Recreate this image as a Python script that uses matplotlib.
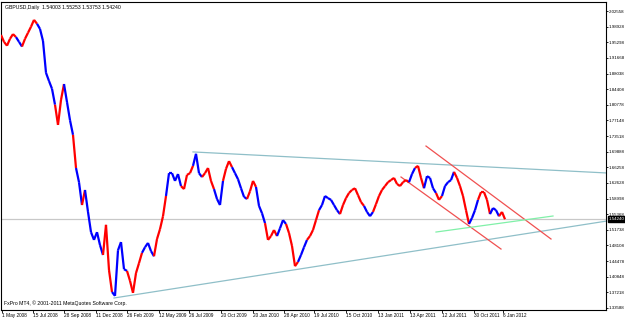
import matplotlib
matplotlib.use("Agg")
import matplotlib.pyplot as plt
from matplotlib.collections import LineCollection
import numpy as np

# ---------------- data ----------------
bar_step = 3  # bars between samples
closes = [
    1.970, 1.954, 1.945, 1.961, 1.972, 1.965, 1.954, 1.943, 1.961, 1.975,
    1.989, 2.005, 1.996, 1.984, 1.956, 1.882, 1.863, 1.845, 1.808, 1.761,
    1.819, 1.856, 1.814, 1.772, 1.738, 1.661, 1.628, 1.575, 1.610, 1.559,
    1.512, 1.494, 1.512, 1.482, 1.459, 1.529, 1.424, 1.373, 1.364, 1.470,
    1.489, 1.426, 1.422, 1.399, 1.371, 1.417, 1.440, 1.464, 1.477, 1.487,
    1.468, 1.456, 1.496, 1.519, 1.549, 1.596, 1.649, 1.649, 1.631, 1.647,
    1.619, 1.612, 1.645, 1.649, 1.666, 1.694, 1.649, 1.640, 1.649, 1.661,
    1.631, 1.612, 1.589, 1.575, 1.631, 1.659, 1.677, 1.663, 1.649, 1.635,
    1.614, 1.594, 1.589, 1.607, 1.631, 1.617, 1.573, 1.556, 1.533, 1.494,
    1.503, 1.517, 1.503, 1.521, 1.540, 1.531, 1.510, 1.480, 1.433, 1.443,
    1.459, 1.477, 1.494, 1.503, 1.517, 1.540, 1.563, 1.575, 1.596, 1.591,
    1.587, 1.575, 1.563, 1.554, 1.575, 1.591, 1.603, 1.610, 1.614, 1.598,
    1.582, 1.573, 1.559, 1.549, 1.559, 1.577, 1.596, 1.610, 1.619, 1.628,
    1.633, 1.638, 1.624, 1.619, 1.628, 1.633, 1.628, 1.647, 1.661, 1.666,
    1.638, 1.614, 1.642, 1.638, 1.614, 1.603, 1.587, 1.596, 1.619, 1.628,
    1.633, 1.652, 1.638, 1.619, 1.596, 1.563, 1.531, 1.545, 1.563, 1.587,
    1.605, 1.605, 1.587, 1.554, 1.568, 1.563, 1.549, 1.559, 1.542,
]
# trend state runs: (state, number of samples); r = up-colour, b = down-colour
trend_runs = [("r", 6), ("b", 2), ("r", 5), ("b", 6), ("r", 3), ("b", 3), ("r", 1), ("b", 2),
              ("r", 1), ("b", 6), ("r", 3), ("b", 5), ("r", 5), ("b", 4), ("r", 4), ("b", 5),
              ("r", 4), ("b", 3), ("r", 4), ("b", 3), ("r", 3), ("b", 5), ("r", 3), ("b", 3),
              ("r", 4), ("b", 3), ("r", 4), ("b", 3), ("r", 4), ("b", 7), ("r", 8), ("b", 3),
              ("r", 12), ("b", 2), ("r", 3), ("b", 4), ("r", 2), ("b", 4), ("r", 5), ("b", 3),
              ("r", 4), ("b", 3), ("r", 2)]

ticks_bar = [1, 32, 63, 95, 126, 158, 188, 220, 252, 283, 313, 345, 377, 409, 441, 473, 502]
tick_labels = ["1 May 2008", "15 Jul 2008", "28 Sep 2008", "11 Dec 2008", "26 Feb 2009",
               "12 May 2009", "26 Jul 2009", "20 Oct 2009", "20 Jan 2010", "28 Apr 2010",
               "19 Jul 2010", "15 Oct 2010", "13 Jan 2011", "13 Apr 2011", "12 Jul 2011",
               "30 Oct 2011", "6 Jan 2012"]
price_levels = [2.02558, 1.98928, 1.95298, 1.91668, 1.88038, 1.84408, 1.80778, 1.77148,
                1.73518, 1.69888, 1.66258, 1.62628, 1.58998, 1.55368, 1.51738, 1.48108,
                1.44478, 1.40848, 1.37218, 1.33588]
current_price = 1.54240
title_text = "GBPUSD,Daily  1.54003 1.55253 1.53753 1.54240"
footer_text = "FxPro MT4, \u00a9 2001-2011 MetaQuotes Software Corp."

# trend lines: (bar, price) anchors
upper_teal = [(192, 1.6983), (606, 1.6494)]
lower_teal = [(113, 1.3591), (606, 1.5379)]
upper_red = [(425, 1.7120), (550, 1.4961)]
lower_red = [(400, 1.6401), (500, 1.4728)]
green_line = [(435, 1.5123), (552, 1.5495)]

# ---------------- figure ----------------
plt.rcParams["font.family"] = ["Liberation Sans", "DejaVu Sans"]
W, H = 625, 319
FS = 3.7
FSX = 3.4
FSY = 3.15
fig = plt.figure(figsize=(W / 100, H / 100), dpi=100)
fig.patch.set_facecolor("white")
ax = fig.add_axes([1 / W, 9 / H, 605 / W, 308 / H])
ax.set_facecolor("white")

ypx = 0.0363 / 15.63
ax.set_ylim(1.33588 - 2 * ypx, 2.02558 + 9 * ypx)
ax.set_xlim(0, 605)

trend = "".join(s * n for s, n in trend_runs)
xs = np.arange(len(closes)) * bar_step
pts = np.column_stack([xs, closes])
segs = [pts[i:i + 2] for i in range(len(pts) - 1)]
cols = ["#ff0000" if trend[min(i + 1, len(trend) - 1)] == "r" else "#0000ff" for i in range(len(segs))]
ax.add_collection(LineCollection(segs, colors=cols, linewidths=1.6, capstyle="butt", zorder=3))

ax.axhline(current_price, color="#c8c8c8", lw=0.9, zorder=1)
for line, c in [(upper_teal, "#8fbfc8"), (lower_teal, "#8fbfc8"),
                (upper_red, "#f05050"), (lower_red, "#f05050"), (green_line, "#80f0a8")]:
    (x0, y0), (x1, y1) = line
    ax.plot([x0, x1], [y0, y1], color=c, lw=0.9, zorder=2, clip_on=True)

# right price axis
ax.yaxis.tick_right()
ax.set_yticks(price_levels)
ax.set_yticklabels([f"{p:.5f}" for p in price_levels])
ax.tick_params(axis="y", which="both", length=1.5, width=0.6, pad=0.6, labelsize=FSY, colors="black")
ax.set_xticks(ticks_bar)
ax.set_xticklabels(tick_labels)
ax.tick_params(axis="x", length=2, width=0.6, pad=0.5, labelsize=FSX, direction="out")
for lab in ax.get_xticklabels():
    lab.set_horizontalalignment("left")

for sp in ax.spines.values():
    sp.set_color("black")
    sp.set_linewidth(0.8)

ax.text(1.004, current_price, f"{current_price:.5f}", transform=ax.get_yaxis_transform(),
        ha="left", va="center", fontsize=FSY, color="white",
        bbox=dict(boxstyle="square,pad=0.15", fc="black", ec="black"), zorder=5, clip_on=False)

ax.text(4 / 605, 1 - 3 / 308, title_text, transform=ax.transAxes, ha="left", va="top", fontsize=FS)
ax.text(3 / 605, 4 / 308, footer_text, transform=ax.transAxes, ha="left", va="bottom", fontsize=FS)

fig.savefig("out.png", dpi=100, facecolor="white")
